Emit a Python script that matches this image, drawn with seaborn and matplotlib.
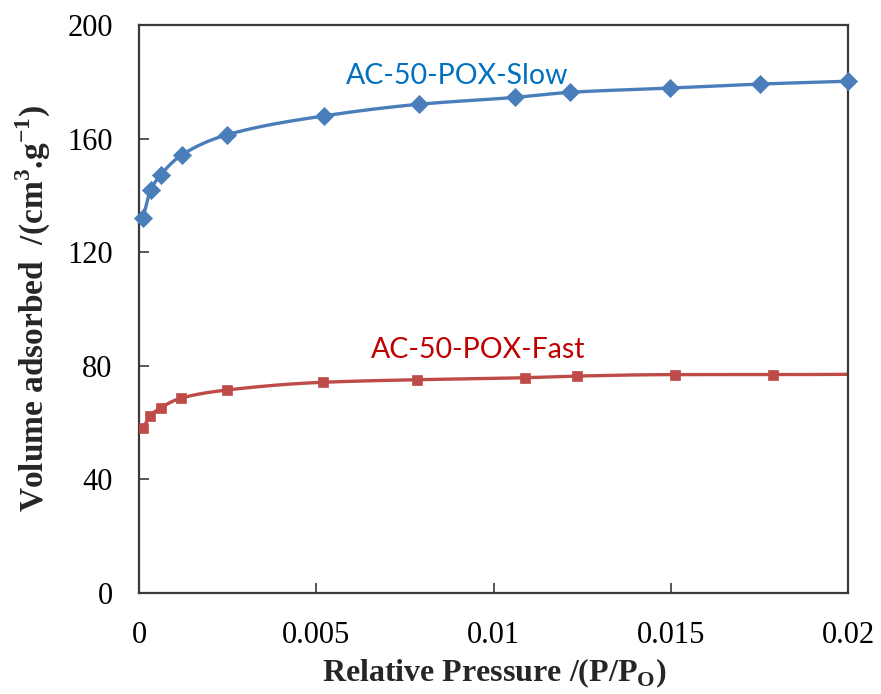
import numpy as np
import pandas as pd
import matplotlib
matplotlib.use("Agg")
import matplotlib.pyplot as plt
import seaborn as sns

# Nitrogen adsorption at low relative pressure
slow_p = [0.00011, 0.00033, 0.00061, 0.00120, 0.00247, 0.00522, 0.00790,
          0.01059, 0.01216, 0.01498, 0.01750, 0.02000]
slow_v = [132.0, 141.9, 147.2, 154.2, 161.3, 168.0, 172.1,
          174.5, 176.3, 177.8, 179.2, 180.2]

fast_p = [0.00012, 0.00031, 0.00061, 0.00118, 0.00249, 0.00518, 0.00783,
          0.01087, 0.01236, 0.01510, 0.01788, 0.02000]
fast_v = [58.2, 62.3, 65.2, 68.6, 71.5, 74.2, 75.1,
          75.8, 76.4, 76.9, 76.9, 77.0]

x_ticks = [0, 0.005, 0.01, 0.015, 0.02]
x_tick_labels = ["0", "0.005", "0.01", "0.015", "0.02"]
y_ticks = [0, 40, 80, 120, 160, 200]

SLOW_LINE = "#4A7EBB"
FAST_LINE = "#BE4B48"
SLOW_TEXT = "#0070C0"
FAST_TEXT = "#C00000"


def pchip(x, y, xs):
    """Monotone cubic Hermite curve through the points (x, y)."""
    x = np.asarray(x, float)
    y = np.asarray(y, float)
    h = np.diff(x)
    d = np.diff(y) / h
    n = len(x)
    m = np.zeros(n)
    for k in range(1, n - 1):
        if d[k - 1] * d[k] > 0:
            w1 = 2 * h[k] + h[k - 1]
            w2 = h[k] + 2 * h[k - 1]
            m[k] = (w1 + w2) / (w1 / d[k - 1] + w2 / d[k])
    m[0] = d[0]
    m[-1] = d[-1]
    idx = np.clip(np.searchsorted(x, xs) - 1, 0, n - 2)
    t = (xs - x[idx]) / h[idx]
    h00 = 2 * t**3 - 3 * t**2 + 1
    h10 = t**3 - 2 * t**2 + t
    h01 = -2 * t**3 + 3 * t**2
    h11 = t**3 - t**2
    return (h00 * y[idx] + h10 * h[idx] * m[idx]
            + h01 * y[idx + 1] + h11 * h[idx] * m[idx + 1])


sns.set_theme(style="white")
plt.rcParams["font.family"] = ["Liberation Serif", "DejaVu Serif"]

fig = plt.figure(figsize=(8.81, 6.94), dpi=100)
ax = fig.add_axes([0.1578, 0.1455, 0.8053, 0.8185])

curves = []
for name, px, vy in [("slow", slow_p, slow_v), ("fast", fast_p, fast_v)]:
    xs = np.linspace(px[0], px[-1], 400)
    curves.append(pd.DataFrame({"p": xs, "v": pchip(px, vy, xs), "series": name}))
curve_df = pd.concat(curves, ignore_index=True)

sns.lineplot(data=curve_df, x="p", y="v", hue="series",
             palette={"slow": SLOW_LINE, "fast": FAST_LINE},
             linewidth=2.4, legend=False, ax=ax, clip_on=True)

slow_df = pd.DataFrame({"p": slow_p, "v": slow_v})
fast_df = pd.DataFrame({"p": fast_p[:-1], "v": fast_v[:-1]})
sns.scatterplot(data=slow_df, x="p", y="v", marker="D", s=85,
                color=SLOW_LINE, edgecolor=SLOW_LINE, linewidth=0.5,
                ax=ax, clip_on=False, zorder=4)
sns.scatterplot(data=fast_df, x="p", y="v", marker="s", s=60,
                color=FAST_LINE, edgecolor=FAST_LINE, linewidth=0.5,
                ax=ax, zorder=4)

ax.set_xlim(0, 0.02)
ax.set_ylim(0, 200)
ax.set_xticks(x_ticks)
ax.set_xticklabels(x_tick_labels)
ax.set_yticks(y_ticks)

for side in ["left", "bottom", "right", "top"]:
    ax.spines[side].set_visible(True)
    ax.spines[side].set_color("#3a3a3a")
    ax.spines[side].set_linewidth(1.6)

ax.tick_params(axis="both", which="major", direction="in", length=7,
               width=1.2, color="#3a3a3a", labelsize=22, labelcolor="black",
               bottom=True, left=True, top=False, right=False)
ax.tick_params(axis="x", pad=20)
ax.tick_params(axis="y", pad=19)

ax.set_xlabel("Relative Pressure /(P/P$_\\mathregular{O}$)", fontsize=23,
              fontweight="bold", labelpad=5)
ax.set_ylabel("Volume adsorbed  /(cm$^\\mathregular{3}$.g$^\\mathregular{-1}$)",
              fontsize=24, fontweight="bold", labelpad=10)

ax.text(0.00898, 179.2, "AC-50-POX-Slow", color=SLOW_TEXT, fontsize=20.5,
        family=["Lato", "DejaVu Sans"], ha="center", va="baseline")
ax.text(0.00955, 82.7, "AC-50-POX-Fast", color=FAST_TEXT, fontsize=20.5,
        family=["Lato", "DejaVu Sans"], ha="center", va="baseline")

fig.savefig("out.png", dpi=100, facecolor="white")
